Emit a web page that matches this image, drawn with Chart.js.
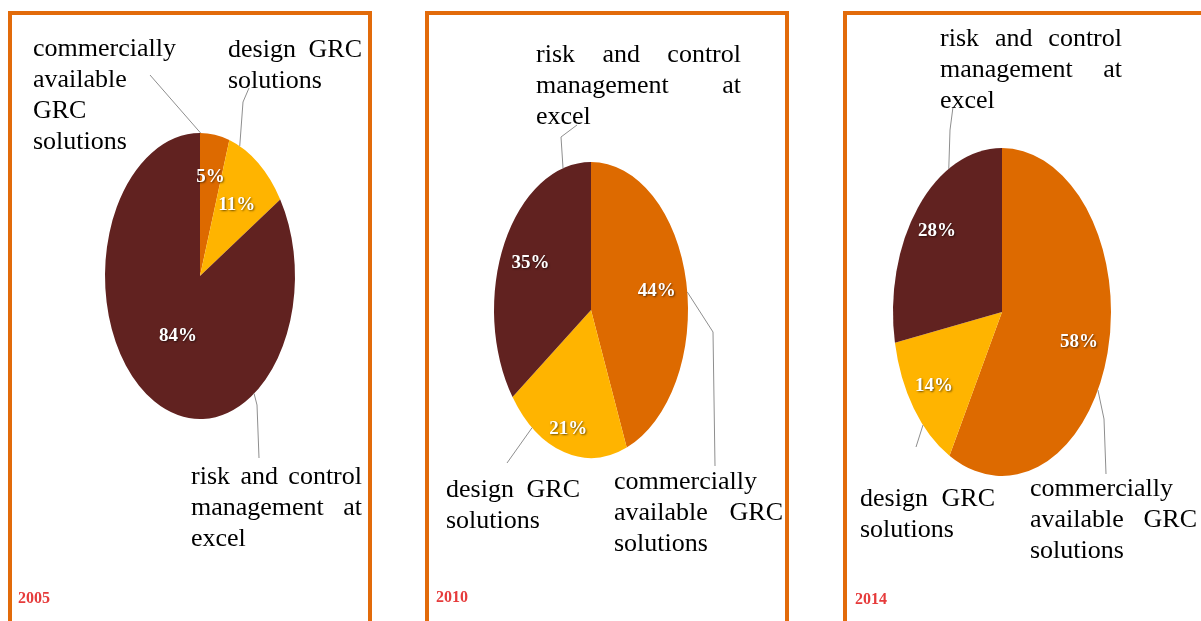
<!DOCTYPE html>
<html>
<head>
<meta charset="utf-8">
<script src="https://cdn.jsdelivr.net/npm/chart.js@4.4.1/dist/chart.umd.min.js"></script>
<style>
  html, body { margin: 0; padding: 0; background: #fff; }
  #page { position: relative; width: 1201px; height: 621px; overflow: hidden; }
  .panel { position: absolute; top: 11px; width: 356px; height: 640px; border: 4px solid #e26b0a; }
  canvas.pie { position: absolute; left: 0; top: 0; }
  .cat { position: absolute; font: 26px "Liberation Serif", "Times New Roman", serif; line-height: 31px;
         color: #000; text-align: justify; }
  .year { position: absolute; font: bold 16px "Liberation Serif", serif; color: #e63b3b; }
</style>
</head>
<body>
<div id="page">
  <div class="panel" style="left:8px"></div>
  <div class="panel" style="left:425px"></div>
  <div class="panel" style="left:843px"></div>
  <canvas class="pie" id="pie2005" width="1201" height="621"></canvas>
  <canvas class="pie" id="pie2010" width="1201" height="621"></canvas>
  <canvas class="pie" id="pie2014" width="1201" height="621"></canvas>
</div>
<script>
// shares per year, same category order in every pie
const categories = ['commercially available GRC solutions', 'design GRC solutions', 'risk and control management at excel'];
const years = ['2005', '2010', '2014'];
const share2005 = [5, 11, 84];
const share2010 = [44, 21, 35];
const share2014 = [58, 14, 28];

const colors = ['#dd6a00', '#ffb400', '#612220'];

// layout of each pie: centre, radii, where labels sit, callout boxes and leader elbows
const layouts = [
  {
    id: 'pie2005', data: share2005, cx: 200, cy: 276, rx: 95, ry: 143,
    labelR: [0.7, 0.63, 0.48],
    boxes: [[33, 32, 150], [228, 33, 134], [191, 460, 171]],
    leaders: [
      { t: 0.02, pts: [[150, 75]] },
      { t: 0.17, pts: [[249, 88], [243, 102]] },
      { t: 0.29, pts: [[259, 458], [257, 405]] }
    ],
    year: [18, 589]
  },
  {
    id: 'pie2010', data: share2010, cx: 591, cy: 310, rx: 97, ry: 148,
    labelR: [0.69, 0.84, 0.7],
    boxes: [[614, 465, 169], [446, 473, 134], [536, 38, 205]],
    leaders: [
      { t: 0.524, pts: [[715, 466], [713, 332]] },
      { t: 0.78, pts: [[507, 463]] },
      { t: 0.867, pts: [[577, 125], [561, 137]] }
    ],
    year: [436, 588]
  },
  {
    id: 'pie2014', data: share2014, cx: 1002, cy: 312, rx: 109, ry: 164,
    labelR: [0.73, 0.77, 0.775],
    boxes: [[1030, 472, 167], [860, 482, 135], [940, 22, 182]],
    leaders: [
      { t: 0.567, pts: [[1106, 474], [1104, 419]] },
      { t: 0.35, pts: [[916, 447]] },
      { t: 0.71, pts: [[953, 107], [950, 130]] }
    ],
    year: [855, 590]
  }
];

// stretch the round pie into an ellipse around its centre
const ellipsePlugin = {
  id: 'ellipse',
  beforeDatasetsDraw(chart, args, opts) {
    const arc = chart.getDatasetMeta(0).data[0];
    const ctx = chart.ctx;
    ctx.save();
    ctx.translate(arc.x, arc.y);
    ctx.scale(1, opts.k);
    ctx.translate(-arc.x, -arc.y);
  },
  afterDatasetsDraw(chart) {
    chart.ctx.restore();
  }
};

// percent labels inside slices and grey leader lines to the category text
const calloutPlugin = {
  id: 'callouts',
  afterDraw(chart, args, opts) {
    const ctx = chart.ctx;
    const values = chart.data.datasets[0].data;
    chart.getDatasetMeta(0).data.forEach((arc, i) => {
      const p = arc.getProps(['x', 'y', 'startAngle', 'endAngle', 'outerRadius'], true);
      const R = p.outerRadius;

      const lead = opts.leaders[i];
      const a = p.startAngle + (p.endAngle - p.startAngle) * lead.t;
      ctx.save();
      ctx.strokeStyle = '#8e8e8e';
      ctx.lineWidth = 1;
      ctx.beginPath();
      lead.pts.forEach((pt, j) => j ? ctx.lineTo(pt[0], pt[1]) : ctx.moveTo(pt[0], pt[1]));
      ctx.lineTo(p.x + Math.cos(a) * R, p.y + Math.sin(a) * R * opts.k);
      ctx.stroke();
      ctx.restore();

      const mid = (p.startAngle + p.endAngle) / 2;
      const f = opts.labelR[i];
      const lx = p.x + Math.cos(mid) * R * f;
      const ly = p.y + Math.sin(mid) * R * f * opts.k;
      ctx.save();
      ctx.font = 'bold 19px "Liberation Serif", serif';
      ctx.textAlign = 'center';
      ctx.textBaseline = 'middle';
      ctx.shadowColor = 'rgba(0,0,0,0.55)';
      ctx.shadowBlur = 2;
      ctx.shadowOffsetX = 1;
      ctx.shadowOffsetY = 1;
      ctx.fillStyle = '#fff';
      ctx.fillText(values[i] + '%', lx, ly);
      ctx.restore();
    });
  }
};

const page = document.getElementById('page');

layouts.forEach((L, n) => {
  new Chart(document.getElementById(L.id), {
    type: 'pie',
    data: {
      labels: categories,
      datasets: [{
        data: L.data,
        backgroundColor: colors,
        borderWidth: 0,
        clip: false
      }]
    },
    options: {
      responsive: false,
      animation: false,
      events: [],
      radius: L.rx,
      layout: {
        padding: { left: L.cx - L.rx, right: 1201 - L.cx - L.rx, top: L.cy - L.ry, bottom: 621 - L.cy - L.ry }
      },
      plugins: {
        legend: { display: false },
        tooltip: { enabled: false },
        ellipse: { k: L.ry / L.rx },
        callouts: { k: L.ry / L.rx, labelR: L.labelR, leaders: L.leaders }
      }
    },
    plugins: [ellipsePlugin, calloutPlugin]
  });

  categories.forEach((name, i) => {
    const b = L.boxes[i];
    const div = document.createElement('div');
    div.className = 'cat';
    div.style.left = b[0] + 'px';
    div.style.top = b[1] + 'px';
    div.style.width = b[2] + 'px';
    div.textContent = name;
    page.appendChild(div);
  });

  const y = document.createElement('div');
  y.className = 'year';
  y.style.left = L.year[0] + 'px';
  y.style.top = L.year[1] + 'px';
  y.textContent = years[n];
  page.appendChild(y);
});
</script>
</body>
</html>
